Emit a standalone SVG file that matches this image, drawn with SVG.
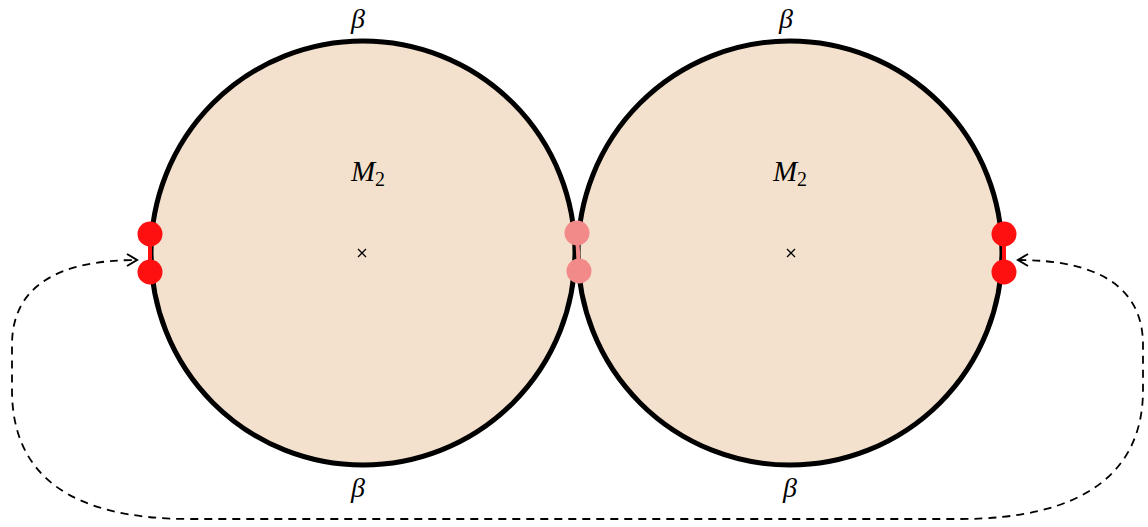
<svg xmlns="http://www.w3.org/2000/svg" width="1148" height="527" viewBox="0 0 1148 527">
<style>
.disk{fill:#F3E0CD;stroke:#000;stroke-width:5}
.lbl{font-family:"Liberation Serif","DejaVu Serif",serif;font-style:italic;fill:#000;text-anchor:middle}
.sub{font-family:"Liberation Serif","DejaVu Serif",serif;font-style:normal}
.red{fill:#FF1010;stroke:#FF1010}
.pink{fill:#F28A8A;stroke:#F28A8A}
.conn{fill:none;stroke:#000;stroke-width:1.8;stroke-dasharray:8 6}
.cross{stroke:#000;stroke-width:1.3}
</style>
<defs>
<marker id="arr" markerWidth="16" markerHeight="18" refX="12" refY="9" orient="auto-start-reverse" markerUnits="userSpaceOnUse">
<polyline points="2,3 12,9 2,15" fill="none" stroke="#000" stroke-width="2"/>
</marker>
</defs>
<g id="node-left">
<circle class="disk" cx="363" cy="253" r="212"/>
<text class="lbl" x="368" y="181" font-size="29">M<tspan class="sub" font-size="20" dy="5">2</tspan></text>
<g class="cross"><line x1="358" y1="249" x2="366" y2="257"/><line x1="366" y1="249" x2="358" y2="257"/></g>
<text class="lbl" x="358" y="28" font-size="28">β</text>
<text class="lbl" x="358" y="497" font-size="28">β</text>
</g>
<g id="node-right">
<circle class="disk" cx="790" cy="253" r="212"/>
<text class="lbl" x="790" y="181" font-size="29">M<tspan class="sub" font-size="20" dy="5">2</tspan></text>
<g class="cross"><line x1="787" y1="249" x2="795" y2="257"/><line x1="795" y1="249" x2="787" y2="257"/></g>
<text class="lbl" x="786" y="28" font-size="28">β</text>
<text class="lbl" x="790" y="497" font-size="28">β</text>
</g>
<g id="node-left-pair">
<line class="red" x1="150" y1="234" x2="150" y2="272" stroke-width="4"/>
<circle class="red" cx="150" cy="234" r="12.5" stroke-width="0"/>
<circle class="red" cx="150" cy="272" r="12.5" stroke-width="0"/>
</g>
<g id="node-mid-pair">
<line class="pink" x1="577" y1="233" x2="579" y2="271" stroke-width="4"/>
<circle class="pink" cx="577" cy="233" r="12.5" stroke-width="0"/>
<circle class="pink" cx="579" cy="271" r="12.5" stroke-width="0"/>
</g>
<g id="node-right-pair">
<line class="red" x1="1004" y1="234" x2="1004" y2="272" stroke-width="4"/>
<circle class="red" cx="1004" cy="234" r="12.5" stroke-width="0"/>
<circle class="red" cx="1004" cy="272" r="12.5" stroke-width="0"/>
</g>
<g id="connectors">
<path class="conn" marker-start="url(#arr)" marker-end="url(#arr)" d="M 1018 260 C 1095 260 1143 285 1143 345 L 1143 390 C 1143 475 1080 519 960 519 L 190 519 C 70 519 12 475 12 390 L 12 345 C 12 285 60 260 137 260"/>
</g>
</svg>
